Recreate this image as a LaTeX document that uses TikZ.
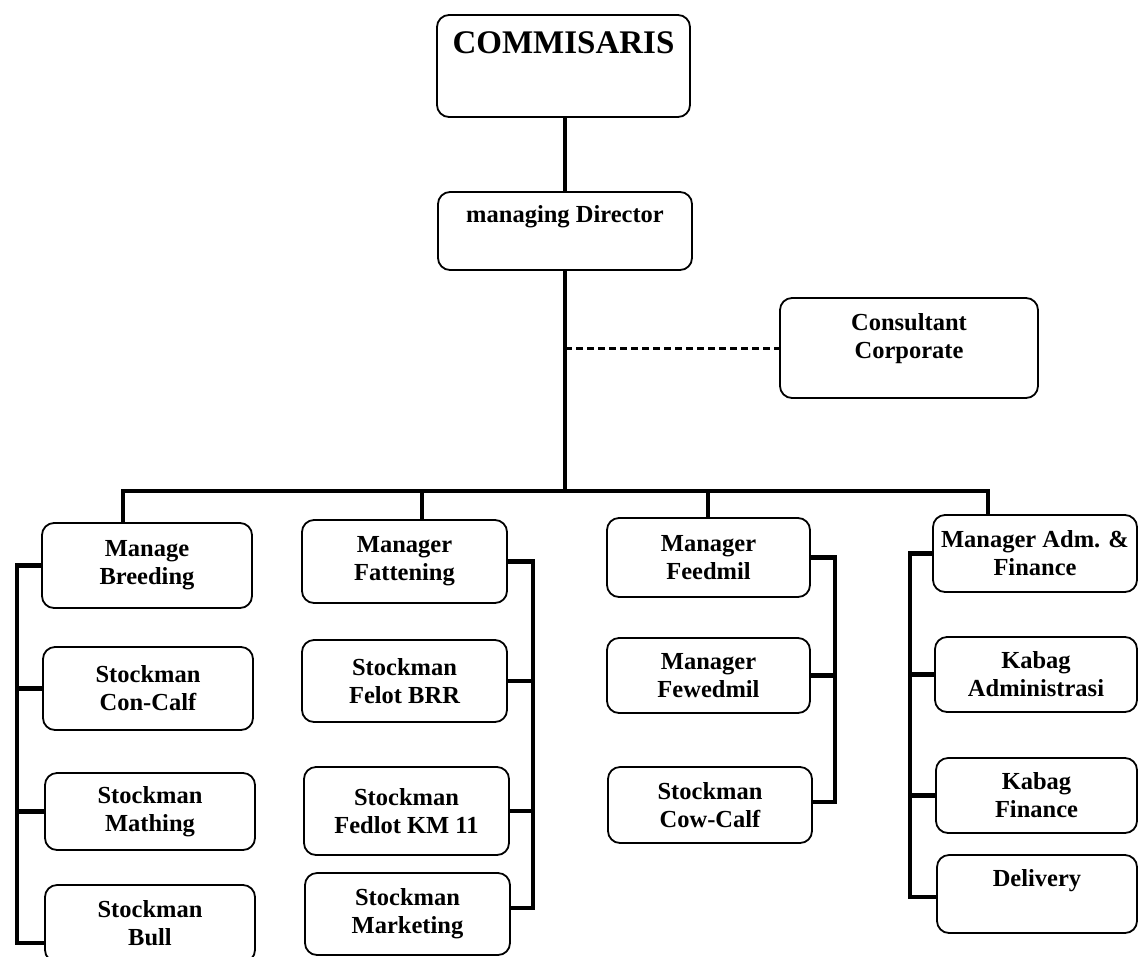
\documentclass[tikz,border=0pt]{standalone}
\usepackage{fontspec}
\setmainfont{Liberation Serif}
\begin{document}
\begin{tikzpicture}[x=1pt,y=-1pt,
  box/.style={draw, line width=1.8pt, rounded corners=12pt, inner sep=0pt, align=center,
    font=\bfseries\fontsize{24.5}{28}\selectfont},
  bx/.style n args={4}{minimum width={(#3)-(#1)}, minimum height={(#4)-(#2)},
    at={({((#1)+(#3))/2},{((#2)+(#4))/2})}},
  conn/.style={line width=4.5pt},
  dconn/.style={line width=3pt, dash pattern=on 7pt off 4pt}]
\useasboundingbox (0,0) rectangle (1139,956);
\clip (0,0) rectangle (1139,956);

% boxes
\node[box, bx={437}{15}{690}{117}, text height=38pt, text depth=64pt,
  font=\bfseries\fontsize{33}{38}\selectfont] (comm) {COMMISARIS};
\node[box, bx={438}{192}{692}{270}, text height=30pt, text depth=48pt] (md) {managing Director};
\node[box, bx={780}{298}{1038}{398}, text height=60pt, text depth=40pt] (cons) {Consultant\\Corporate};

\node[box, bx={42}{523}{252}{608}] (mb) {Manage\\Breeding};
\node[box, bx={43}{647}{253}{730}] (scc) {Stockman\\Con-Calf};
\node[box, bx={45}{773}{255}{850}] (smt) {Stockman\\Mathing};
\node[box, bx={45}{885}{255}{962}] (sbu) {Stockman\\Bull};

\node[box, bx={302}{520}{507}{603}] (mf) {Manager\\Fattening};
\node[box, bx={302}{640}{507}{722}] (sfb) {Stockman\\Felot BRR};
\node[box, bx={304}{767}{509}{855}] (sfk) {Stockman\\Fedlot KM 11};
\node[box, bx={305}{873}{510}{955}] (smk) {Stockman\\Marketing};

\node[box, bx={607}{518}{810}{597}] (mfd) {Manager\\Feedmil};
\node[box, bx={607}{638}{810}{713}] (mfw) {Manager\\Fewedmil};
\node[box, bx={608}{767}{812}{843}] (scw) {Stockman\\Cow-Calf};

\node[box, bx={933}{515}{1137}{592}] (madm) {Manager Adm. \&\\Finance};
\node[box, bx={935}{637}{1137}{712}] (kadm) {Kabag\\Administrasi};
\node[box, bx={936}{758}{1137}{833}] (kfin) {Kabag\\Finance};
\node[box, bx={937}{855}{1137}{933}, text height=31pt, text depth=47pt] (del) {Delivery};

% main spine
\coordinate (jn) at (565,491);
\coordinate (dj) at (565,349);
\draw[conn] (comm.south -| jn) -- (md.north -| jn);
\draw[conn] (md.south -| jn) -- (jn);
\draw[dconn] (cons.west -| dj) -- (cons.west);

% bus
\coordinate (b1) at (123,491);
\coordinate (b2) at (422,491);
\coordinate (b3) at (708,491);
\coordinate (b4) at (988,491);
\draw[conn] (b1 |- mb.north) -- (b1) -- (b4) -- (b4 |- madm.north);
\draw[conn] (b2) -- (b2 |- mf.north);
\draw[conn] (b3) -- (b3 |- mfd.north);

% breeding column
\coordinate (lb) at (17,943);
\draw[conn] (mb.west) -| (lb) -- (sbu.west |- lb);
\draw[conn] (scc.west) -- (scc.west -| lb);
\draw[conn] (smt.west) -- (smt.west -| lb);

% fattening column
\coordinate (fb) at (533,908);
\draw[conn] (mf.east) -| (fb) -- (smk.east |- fb);
\draw[conn] (sfb.east) -- (sfb.east -| fb);
\draw[conn] (sfk.east) -- (sfk.east -| fb);

% feedmil column
\coordinate (db) at (835,802);
\draw[conn] (mfd.east) -| (db) -- (scw.east |- db);
\draw[conn] (mfw.east) -- (mfw.east -| db);

% adm column
\coordinate (ab) at (910,897);
\draw[conn] (madm.west) -| (ab) -- (del.west |- ab);
\draw[conn] (kadm.west) -- (kadm.west -| ab);
\draw[conn] (kfin.west) -- (kfin.west -| ab);
\end{tikzpicture}
\end{document}
